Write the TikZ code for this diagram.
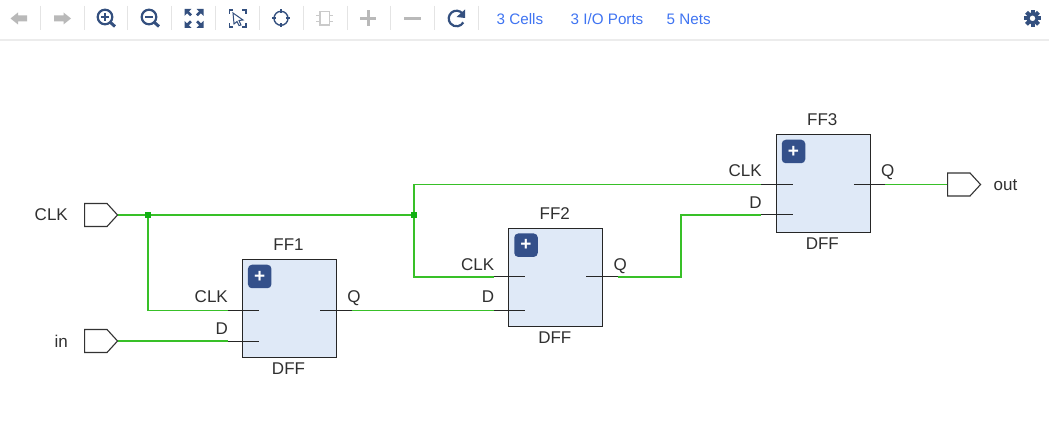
\documentclass[tikz,border=0pt]{standalone}
\usepackage{fontspec}
\setmainfont{Liberation Sans}
\usetikzlibrary{shapes.symbols,arrows.meta}
\definecolor{wire}{HTML}{38C028}
\definecolor{junc}{HTML}{12B012}
\definecolor{cellfill}{HTML}{DFE9F7}
\definecolor{navy}{HTML}{34507F}
\definecolor{btn}{HTML}{34508A}
\definecolor{ink}{HTML}{303030}
\definecolor{linkc}{HTML}{3F74F2}
\definecolor{greyi}{HTML}{B9B9B9}
\definecolor{sepc}{HTML}{E4E4E4}
\tikzset{
  cellbox/.style={draw=black!85,line width=1.2pt,fill=cellfill,minimum width=94pt,minimum height=98pt,inner sep=0pt,anchor=north west},
  txt/.style={inner sep=0pt,text=ink,text height=12pt,text depth=0pt,font=\fontsize{17}{18}\selectfont},
  pin/.style={draw=black!85,line width=1pt},
  net/.style={draw=wire,line width=1.4pt},
  port/.style={draw=black!80,line width=1.1pt,fill=white,shape=signal,signal to=east,signal from=nowhere,signal pointer angle=95,minimum width=33pt,minimum height=23pt,inner sep=0pt,anchor=west},
  junction/.style={fill=junc,minimum size=6pt,inner sep=0pt,shape=rectangle},
  plusbtn/.style={fill=btn,rounded corners=4pt,minimum size=23.5pt,inner sep=0pt},
  link/.style={inner sep=0pt,text=linkc,font=\fontsize{15.2}{17}\selectfont},
  iconblue/.style={draw=navy,line width=2.2pt},
  icongrey/.style={draw=greyi,line width=3pt},
  sep/.style={draw=sepc,line width=1pt}
}
% name, left, top, y of CLK/Q pin, y of D pin, y of CLK/Q label, y of D label
\newcommand{\ffcell}[7]{%
  \node[cellbox] (#1) at (#2,#3) {};
  \node[plusbtn] (#1btn) at (#2+18,#3+17.5) {};
  \node[inner sep=0pt,text=white,font=\bfseries\fontsize{19}{19}\selectfont] (#1plus) at (#1btn) {+};
  \node[txt] (#1name) at (#2+46.8,#3-14) {#1};
  \node[txt] (#1type) at (#2+46.8,#3+109.5) {DFF};
  \node[txt,anchor=east] (#1clkl) at (#2-13.7,#6) {CLK};
  \node[txt,anchor=east] (#1dl) at (#2-13.7,#7) {D};
  \node[txt,anchor=west] (#1ql) at (#2+105.5,#6) {Q};
  \coordinate (#1clko) at (#2-14.2,#4);
  \coordinate (#1clki) at (#2+17.2,#4);
  \coordinate (#1do) at (#2-14.2,#5);
  \coordinate (#1di) at (#2+17.2,#5);
  \coordinate (#1qi) at (#2+78.3,#4);
  \coordinate (#1qo) at (#2+109.8,#4);
  \draw[pin] (#1clko) -- (#1clki);
  \draw[pin] (#1do) -- (#1di);
  \draw[pin] (#1qi) -- (#1qo);
}
\begin{document}
\begin{tikzpicture}[x=1pt,y=-1pt]
\useasboundingbox (0,0) rectangle (1049,446);
\fill[white] (0,0) rectangle (1049,446);
% toolbar
\fill[sepc!70] (0,39.5) rectangle (1049,41.5);
\foreach \x in {40.5,84,127.7,171.5,215,259,303,347,390.7,434,478}
  \draw[sep] (\x,6) -- (\x,30);
% back / forward
\fill[greyi] (10.5,18.5) -- (18,12.5) -- (18,15.5) -- (27,15.5) -- (27,21.5) -- (18,21.5) -- (18,24.5) -- cycle;
\fill[greyi] (71,18.5) -- (63.5,12.5) -- (63.5,15.5) -- (54,15.5) -- (54,21.5) -- (63.5,21.5) -- (63.5,24.5) -- cycle;
% zoom in
\draw[iconblue] (105,17) circle (7.3);
\draw[navy,line width=3pt] (110.5,22.5) -- (115,26.5);
\draw[navy,line width=1.4pt] (101,17) -- (109,17) (105,13) -- (105,21);
% zoom out
\draw[iconblue] (149,17) circle (7.3);
\draw[navy,line width=3pt] (154.5,22.5) -- (159,26.5);
\draw[navy,line width=1.4pt] (145,17) -- (153,17);
% fit
\foreach \sx/\sy in {-1/-1,1/-1,-1/1,1/1}{
  \fill[navy] (194+\sx*9.5,18.3+\sy*9.5) -- ++(-\sx*7,0) -- ++(\sx*7,-\sy*7) -- cycle;
  \draw[navy,line width=2.6pt] (194+\sx*7.5,18.3+\sy*7.5) -- (194+\sx*3,18.3+\sy*3);
}
% select
\draw[navy,line width=1.2pt] (229.3,14) -- (229.3,10) -- (233,10) (242,10) -- (246,10) -- (246,14) (246,23) -- (246,27) -- (242,27) (233,27) -- (229.3,27) -- (229.3,23);
\draw[navy,line width=1pt,fill=white] (233,13) -- (243,20) -- (239,20.5) -- (241,25) -- (239,25.5) -- (237,21.5) -- (234,24) -- cycle;
% locate
\draw[navy,line width=1.4pt] (281,18.3) circle (7);
\draw[navy,line width=1.6pt] (281,9.5) -- (281,13) (281,23.5) -- (281,27) (272.3,18.3) -- (275.8,18.3) (286.2,18.3) -- (289.7,18.3);
% component
\draw[greyi!75,line width=1.3pt] (320,11.7) rectangle (329.3,25);
\draw[greyi!75,line width=1.3pt] (316,15.5) -- (320,15.5) (316,21.5) -- (320,21.5) (329.3,15.5) -- (333,15.5) (329.3,21.5) -- (333,21.5);
% plus, minus
\draw[icongrey] (368,10.5) -- (368,26.5) (360,18.5) -- (376,18.5);
\draw[icongrey] (404,18.5) -- (421,18.5);
% refresh
\draw[iconblue] (462.5,13.5) arc (-40:-330:7.8);
\fill[navy] (465,9.5) -- (465,18) -- (456.5,17) -- cycle;
% links
\node[link,anchor=west] (cells) at (496.5,19) {3 Cells};
\node[link,anchor=west] (ports) at (570.5,19) {3 I/O Ports};
\node[link,anchor=west] (nets) at (666.5,19) {5 Nets};
% gear
\foreach \a in {0,45,...,315}
  \fill[navy,rotate around={\a:(1032.5,18.3)}] (1030.5,9.8) rectangle (1034.5,13);
\draw[navy,line width=3.2pt] (1032.5,18.3) circle (4.6);
% cells
\ffcell{FF1}{241.7}{259}{310.5}{341}{296.7}{328}
\ffcell{FF2}{508}{227.7}{277}{310.5}{265}{296.7}
\ffcell{FF3}{775.5}{134}{184.5}{215}{171}{202.7}
% ports
\node[port] (clkport) at (84,215) {};
\node[port] (inport) at (84,341) {};
\node[port] (outport) at (947,184.5) {};
\node[txt,anchor=east] (clklabel) at (68,215) {CLK};
\node[txt,anchor=east] (inlabel) at (68,341.5) {in};
\node[txt,anchor=west] (outlabel) at (993.5,184.5) {out};
% nets
\node[junction] (j1) at (148,215) {};
\node[junction] (j2) at (414,215) {};
\coordinate (bend1) at (681,277);
\coordinate (bend2) at (681,215);
\draw[net] (clkport.east) -- (j1) -- (j2);
\draw[net] (j1) |- (FF1clko);
\draw[net] (j2) |- (FF2clko);
\draw[net] (j2) |- (FF3clko);
\draw[net] (inport.east) -- (FF1do);
\draw[net] (FF1qo) -- (FF2do);
\draw[net] (FF2qo) -- (bend1) -- (bend2) -- (FF3do);
\draw[net] (FF3qo) -- (outport.west);
\end{tikzpicture}
\end{document}
